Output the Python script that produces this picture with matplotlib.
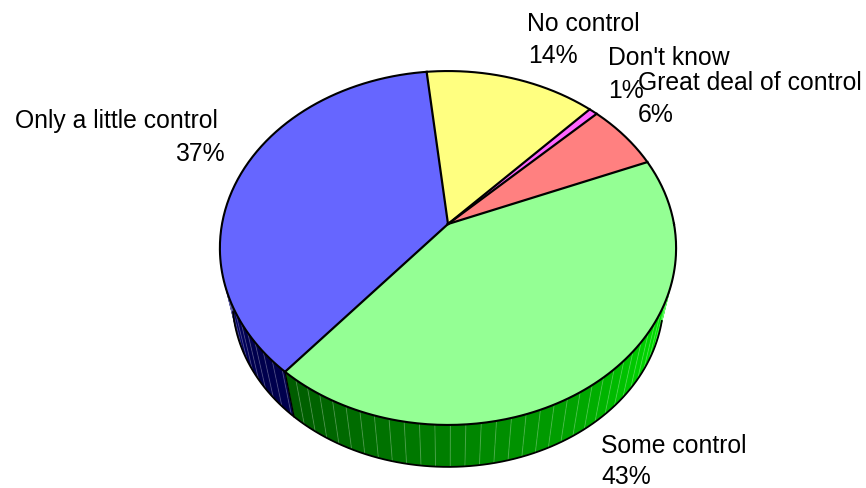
import numpy as np
import matplotlib
matplotlib.use('Agg')
import matplotlib.pyplot as plt

plt.rcParams['font.family'] = ['Liberation Sans', 'DejaVu Sans']

# slices, going counter clockwise from the start angle
categories = ['Great deal of control', "Don't know", 'No control', 'Only a little control', 'Some control']
shares = [6.1, 0.7, 13.8, 37.1, 42.3]
pct_labels = ['6%', '1%', '14%', '37%', '43%']
top_colors = ['#ff8080', '#ff66ff', '#ffff80', '#6666ff', '#94ff94']

start_angle = 22


def project(theta, scale=1.0, y0=225.0):
    # tilted disc with some perspective, theta in degrees
    u = np.cos(np.radians(theta))
    v = np.sin(np.radians(theta))
    w = 1 + 0.1356 * v
    return 448 + scale * 226 * u / w, y0 - scale * 173.7 * v / w


def bottom(theta):
    return project(theta, 0.945, 278.0)


fig, ax = plt.subplots(figsize=(8.66, 4.89), dpi=100)
ax.set_position([0, 0, 1, 1])
ax.set_xlim(0, 866)
ax.set_ylim(489, 0)
ax.axis('off')

edges = start_angle + 3.6 * np.cumsum([0] + shares)
blue_from, blue_to = edges[3], edges[4]
green_from, green_to = edges[4], edges[5]


# side wall, cut in strips like the old 3D pie does
def wall(a, b, angles, levels, rgb):
    for t0 in np.arange(a, b, 3.4):
        t1 = min(t0 + 3.4, b)
        x0, y0 = project(t0)
        x1, y1 = project(t1)
        x2, y2 = bottom(t1)
        x3, y3 = bottom(t0)
        level = np.interp((t0 + t1) / 2, angles, levels)
        ax.fill([x0, x1, x2, x3], [y0, y1, y2, y3], color=[c * level for c in rgb],
                lw=0.3, zorder=1)
        ax.plot([x1, x2], [y1, y2], color='white', alpha=0.22, lw=0.7, zorder=1.5)


wall(blue_from, blue_to, [165, 190, 215, 230], [1.0, 0.55, 0.3, 0.3], (0, 0, 1))
wall(green_from, green_to, [230, 270, 300, 330, 350, 382],
     [0.36, 0.5, 0.64, 0.85, 1.0, 1.0], (0, 1, 0))

# lower edge and the corner between blue and green
t = np.linspace(192, 345, 200)
ax.plot(*bottom(t), color='black', lw=1.3, zorder=2)
tx0, ty0 = project(green_from)
tx1, ty1 = bottom(green_from)
ax.plot([tx0, tx1], [ty0, ty1], color='black', lw=1.0, zorder=2)

# top of the pie
for i in range(len(shares)):
    t = np.linspace(edges[i], edges[i + 1], 120)
    x, y = project(t)
    ax.fill(np.r_[448, x], np.r_[225, y], color=top_colors[i], lw=0, zorder=3)
for i in range(len(shares)):
    x, y = project(edges[i])
    ax.plot([448, x], [225, y], color='black', lw=1.6, zorder=4)
t = np.linspace(0, 360, 500)
ax.plot(*project(t), color='black', lw=1.5, zorder=4)

# labels, name line and percent line are placed apart
name_pos = [(638, 90), (608, 65), (527, 31), (15, 128), (601, 453)]
pct_pos = [(638, 122), (608, 98), (528, 63), (175, 161), (601, 484)]
draw_order = [1, 0, 2, 3, 4]
for i in draw_order:
    ax.text(name_pos[i][0], name_pos[i][1], categories[i], fontsize=17.8, color='black',
            va='baseline', ha='left', zorder=5)
    ax.text(pct_pos[i][0], pct_pos[i][1], pct_labels[i], fontsize=17.8, color='black',
            va='baseline', ha='left', zorder=5)

fig.savefig('out.png', dpi=100)
